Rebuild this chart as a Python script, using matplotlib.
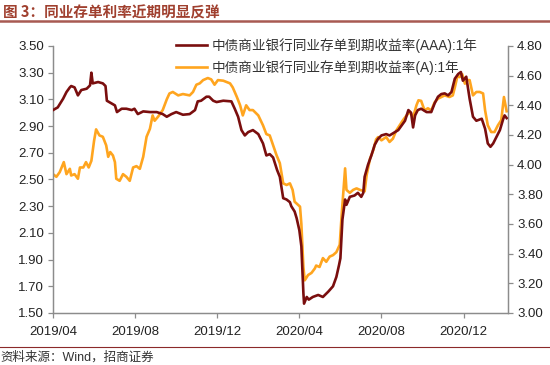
import matplotlib
matplotlib.use("Agg")
import matplotlib.pyplot as plt
import matplotlib.dates as mdates
from matplotlib.lines import Line2D
import pandas as pd

# ---------------- data ----------------
start_date = "2019-04-01"
# AAA series (left axis): days since start_date, yield %
aaa_days = [0, 7, 15, 20, 25, 27, 32, 37, 42, 50, 55, 57, 59, 67, 74, 78, 80, 87, 92, 95,
            102, 109, 117, 121, 126, 134, 144, 154, 163, 169, 176, 183, 193, 203, 211, 215,
            220, 228, 232, 238, 243, 253, 265, 270, 275, 280, 285, 290, 297, 305, 312, 317,
            322, 327, 333, 337, 342, 347, 352, 354, 359, 362, 366, 369, 372, 373, 377, 380,
            386, 394, 401, 409, 416, 421, 425, 427, 430, 434, 436, 441, 448, 453, 458, 461,
            463, 468, 473, 478, 483, 488, 495, 500, 508, 513, 518, 523, 528, 532, 535, 538,
            542, 547, 555, 562, 567, 572, 577, 582, 587, 592, 597, 602, 606, 609, 614, 619,
            624, 629, 637, 642, 646, 650, 654, 659, 664, 669, 671, 674]
aaa_vals = [3.02, 3.04, 3.105, 3.155, 3.19, 3.20, 3.19, 3.13, 3.17, 3.18, 3.205, 3.30, 3.22,
            3.23, 3.22, 3.20, 3.09, 3.07, 3.055, 3.005, 3.03, 3.03, 3.02, 3.03, 2.99, 3.01,
            3.005, 3.005, 2.99, 2.97, 2.99, 3.005, 2.985, 2.99, 3.02, 3.085, 3.09, 3.12, 3.12,
            3.09, 3.08, 3.09, 3.085, 3.03, 2.97, 2.87, 2.83, 2.855, 2.87, 2.84, 2.77, 2.68,
            2.69, 2.665, 2.57, 2.52, 2.36, 2.35, 2.33, 2.30, 2.26, 2.21, 2.12, 2.00, 1.65,
            1.57, 1.62, 1.60, 1.62, 1.635, 1.62, 1.66, 1.70, 1.77, 1.86, 1.91, 2.20, 2.35,
            2.31, 2.37, 2.38, 2.40, 2.37, 2.40, 2.52, 2.61, 2.68, 2.76, 2.805, 2.83, 2.84,
            2.83, 2.855, 2.87, 2.905, 2.94, 3.02, 3.00, 2.89, 2.98, 3.02, 3.03, 3.005, 3.005,
            3.07, 3.12, 3.14, 3.145, 3.13, 3.155, 3.255, 3.29, 3.305, 3.24, 3.27, 3.105, 2.97,
            2.94, 2.955, 2.88, 2.77, 2.745, 2.77, 2.82, 2.87, 2.955, 2.98, 2.96]

# A series (right axis)
a_days = [0, 5, 10, 16, 20, 25, 27, 32, 37, 40, 45, 49, 53, 57, 61, 64, 69, 74, 79, 82, 85,
          89, 92, 94, 99, 104, 109, 114, 119, 124, 129, 134, 139, 144, 148, 151, 156, 163,
          169, 173, 178, 186, 193, 203, 208, 213, 218, 223, 230, 235, 240, 245, 253, 263,
          267, 273, 278, 282, 287, 292, 297, 305, 312, 317, 322, 327, 332, 337, 342, 347,
          352, 356, 359, 367, 369, 372, 374, 379, 384, 389, 391, 396, 401, 406, 411, 416,
          421, 426, 429, 434, 436, 441, 446, 451, 456, 463, 466, 471, 476, 480, 483, 488,
          495, 500, 505, 510, 515, 520, 525, 530, 535, 540, 543, 547, 552, 557, 562, 567,
          572, 577, 582, 589, 594, 597, 601, 604, 608, 612, 616, 619, 624, 629, 634, 639,
          642, 646, 651, 656, 661, 666, 670, 674]
a_vals = [3.936, 3.918, 3.95, 4.017, 3.936, 3.972, 3.927, 3.936, 3.905, 3.981, 3.981, 4.017,
          3.981, 4.026, 4.161, 4.238, 4.197, 4.188, 4.13, 4.053, 4.085, 4.062, 4.017, 3.905,
          3.891, 3.936, 3.918, 3.891, 3.981, 3.99, 3.972, 4.053, 4.188, 4.242, 4.332, 4.296,
          4.323, 4.368, 4.44, 4.48, 4.49, 4.467, 4.476, 4.467, 4.49, 4.539, 4.548, 4.57,
          4.584, 4.575, 4.539, 4.57, 4.566, 4.548, 4.521, 4.458, 4.40, 4.332, 4.40, 4.368,
          4.368, 4.332, 4.265, 4.206, 4.197, 4.13, 4.065, 4.01, 3.874, 3.863, 3.874, 3.83,
          3.75, 3.717, 3.60, 3.31, 3.22, 3.256, 3.27, 3.30, 3.32, 3.31, 3.37, 3.345, 3.38,
          3.39, 3.41, 3.46, 3.67, 3.975, 3.83, 3.81, 3.83, 3.84, 3.83, 3.82, 3.93, 4.04,
          4.10, 4.17, 4.186, 4.164, 4.186, 4.153, 4.175, 4.23, 4.265, 4.30, 4.33, 4.355,
          4.32, 4.40, 4.434, 4.43, 4.366, 4.38, 4.366, 4.42, 4.445, 4.456, 4.467, 4.456,
          4.467, 4.52, 4.60, 4.59, 4.61, 4.546, 4.57, 4.57, 4.467, 4.49, 4.49, 4.48, 4.366,
          4.265, 4.22, 4.22, 4.265, 4.30, 4.456, 4.36]

label_aaa = "中债商业银行同业存单到期收益率(AAA):1年"
label_a = "中债商业银行同业存单到期收益率(A):1年"
title_text = "图 3：同业存单利率近期明显反弹"
source_text = "资料来源：Wind，招商证券"
x_ticks = ["2019-04-01", "2019-08-01", "2019-12-01", "2020-04-01", "2020-08-01", "2020-12-01"]
left_ticks = [1.50, 1.70, 1.90, 2.10, 2.30, 2.50, 2.70, 2.90, 3.10, 3.30, 3.50]
right_ticks = [3.00, 3.20, 3.40, 3.60, 3.80, 4.00, 4.20, 4.40, 4.60, 4.80]
x_end_days = 676

# ---------------- plot ----------------
FAM = ["Liberation Sans", "Noto Sans CJK SC", "DejaVu Sans"]
plt.rcParams["font.family"] = FAM

t0 = pd.Timestamp(start_date)
aaa_dates = t0 + pd.to_timedelta(aaa_days, unit="D")
a_dates = t0 + pd.to_timedelta(a_days, unit="D")

fig = plt.figure(figsize=(5.5, 3.65), dpi=100)
ax = fig.add_axes([0.0964, 0.1425, 0.8272, 0.7315])
ax2 = ax.twinx()

c_aaa = "#7A0E0E"
c_a = "#FFA51F"
l2, = ax2.plot(a_dates, a_vals, color=c_a, lw=1.9, zorder=2)
l1, = ax.plot(aaa_dates, aaa_vals, color=c_aaa, lw=1.9, zorder=3)
ax.set_zorder(ax2.get_zorder() + 1)
ax.patch.set_visible(False)

ax.set_xlim(t0, t0 + pd.Timedelta(days=x_end_days))
ax.set_ylim(1.5, 3.5)
ax2.set_ylim(3.0, 4.8)
ax.set_yticks(left_ticks)
ax.set_yticklabels([f"{v:.2f}" for v in left_ticks])
ax2.set_yticks(right_ticks)
ax2.set_yticklabels([f"{v:.2f}" for v in right_ticks])
ax.set_xticks(pd.to_datetime(x_ticks))
ax.xaxis.set_major_formatter(mdates.DateFormatter("%Y/%m"))

spine_c = "#8C8C8C"
for a in (ax, ax2):
    for s in ("top",):
        a.spines[s].set_visible(False)
    for s in ("left", "right", "bottom"):
        a.spines[s].set_color(spine_c)
        a.spines[s].set_linewidth(0.9)
    a.tick_params(colors=spine_c, labelcolor="#222222", labelsize=9.5,
                  length=3.5, width=0.9, direction="out")
ax.tick_params(axis="x", pad=6)
ax.tick_params(axis="y", pad=3)
ax2.tick_params(axis="y", pad=3)

leg = ax.legend([l1, l2], [label_aaa, label_a], loc="upper left",
                bbox_to_anchor=(0.258, 1.049), frameon=False, fontsize=9.8,
                handlelength=2.3, handletextpad=0.3, labelspacing=0.5,
                borderaxespad=0.0)
for t in leg.get_texts():
    t.set_color("#333333")

# title and footer
fig.text(0.005, 0.965, title_text, fontsize=10.5, fontweight="bold",
         color="#A0402F", ha="left", va="center",
         family=["Noto Sans CJK SC", "DejaVu Sans"])
fig.add_artist(Line2D([0, 1], [0.943, 0.943], transform=fig.transFigure,
                      color="#A85A52", lw=1.8))
fig.add_artist(Line2D([0, 1], [0.048, 0.048], transform=fig.transFigure,
                      color="#8B2A2A", lw=0.8))
fig.text(0.0, 0.02, source_text, fontsize=9, color="#333333",
         ha="left", va="center", family=FAM)

fig.savefig("out.png", dpi=100)
